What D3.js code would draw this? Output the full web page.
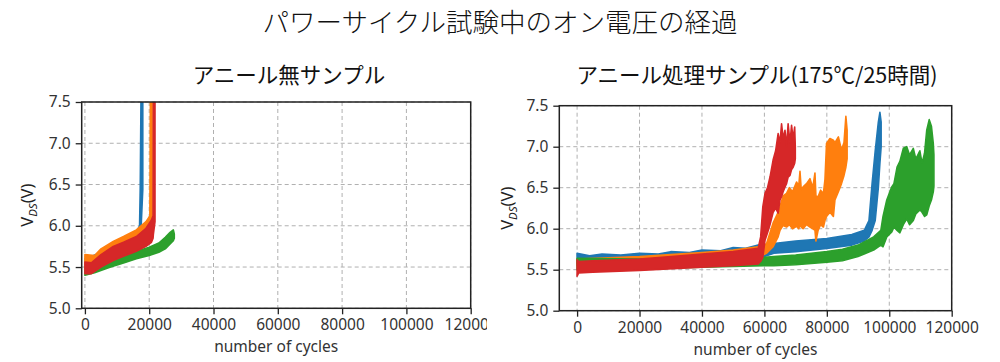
<!DOCTYPE html>
<html>
<head>
<meta charset="utf-8">
<script src="https://cdn.jsdelivr.net/npm/d3@7"></script>
<style>
  body { margin: 0; background: #fff; }
  svg { display: block; font-family: "Noto Sans CJK JP", "Noto Sans", sans-serif; }
</style>
</head>
<body>
<div id="container"></div>
<script>
const cycleTicks = [0, 20000, 40000, 60000, 80000, 100000, 120000];
const vdsTicks = [5.0, 5.5, 6.0, 6.5, 7.0, 7.5];
const sampleColors = ['#1f77b4', '#ff7f0e', '#2ca02c', '#d62728'];

// [cycles, lower V, upper V] envelopes
const rawBlue = [
  [0, 5.52, 5.60], [8000, 5.60, 5.72], [16000, 5.75, 5.92], [17000, 5.88, 6.00],
  [17200, 5.95, 6.44], [17500, 6.00, 7.8], [18000, 6.44, 7.8]
];
const rawOrange = [
  [0, 5.50, 5.65], [3000, 5.50, 5.64], [5000, 5.55, 5.72], [8800, 5.62, 5.81],
  [12000, 5.68, 5.87], [16000, 5.74, 5.95], [19000, 5.80, 6.05], [20200, 5.85, 6.12],
  [20400, 5.90, 7.8], [20900, 6.10, 7.8]
];
const rawGreen = [
  [0, 5.40, 5.50], [3000, 5.43, 5.52], [8000, 5.50, 5.59], [12000, 5.55, 5.64],
  [16000, 5.60, 5.69], [20000, 5.64, 5.74], [23000, 5.68, 5.79], [25000, 5.72, 5.86],
  [26500, 5.78, 5.92], [27500, 5.82, 5.95], [27800, 5.85, 5.90]
];
const rawRed = [
  [0, 5.42, 5.56], [2000, 5.42, 5.55], [5000, 5.50, 5.65], [8800, 5.58, 5.75],
  [12000, 5.63, 5.80], [16000, 5.69, 5.87], [19000, 5.75, 5.97], [20700, 5.80, 6.07],
  [21200, 5.85, 6.12], [21300, 5.90, 7.8], [21800, 6.05, 7.8]
];

const annealBlue = [
  [0, 5.58, 5.70], [4000, 5.60, 5.67], [8000, 5.59, 5.69], [14000, 5.60, 5.68],
  [20000, 5.60, 5.70], [26000, 5.61, 5.69], [30000, 5.62, 5.72], [36000, 5.63, 5.71],
  [40000, 5.64, 5.74], [46000, 5.65, 5.73], [50000, 5.67, 5.77], [54000, 5.67, 5.76],
  [58000, 5.68, 5.80], [60000, 5.66, 5.80],
  [63000, 5.70, 5.82], [70000, 5.72, 5.85], [80000, 5.76, 5.88], [88000, 5.80, 5.93],
  [92000, 5.85, 5.98], [93500, 5.90, 6.10], [94500, 5.98, 6.55], [95500, 6.10, 6.95],
  [96500, 6.50, 7.30], [97000, 6.80, 7.42], [97400, 7.00, 7.30]
];
const annealOrange = [
  [0, 5.55, 5.63], [20000, 5.57, 5.66], [40000, 5.60, 5.71], [50000, 5.63, 5.74],
  [58000, 5.66, 5.78], [59500, 5.68, 5.78], [60700, 5.70, 5.82], [62800, 5.78, 6.07],
  [64400, 5.90, 6.20], [65000, 5.98, 6.27], [66000, 6.04, 6.40], [67100, 6.02, 6.43],
  [68000, 6.05, 6.50], [69000, 6.00, 6.45], [70300, 6.03, 6.57], [71000, 6.00, 6.52],
  [71400, 6.05, 6.70], [71800, 6.02, 6.48], [72400, 6.00, 6.51], [73500, 6.05, 6.55],
  [74600, 6.02, 6.61], [75500, 6.00, 6.50], [76200, 5.98, 6.68], [76500, 5.85, 6.40],
  [77200, 5.98, 6.39], [78000, 6.05, 6.47], [78900, 6.02, 6.43], [79400, 6.10, 6.60],
  [79900, 6.15, 7.04], [81000, 6.20, 7.10], [82100, 6.15, 7.08], [82600, 6.35, 7.05],
  [83700, 6.45, 7.12], [84700, 6.55, 6.96], [85500, 6.65, 7.05], [86100, 6.75, 7.37],
  [86500, 6.85, 7.20]
];
const annealGreen = [
  [0, 5.50, 5.64], [20000, 5.51, 5.63], [40000, 5.53, 5.63], [50000, 5.54, 5.64],
  [60000, 5.55, 5.65], [63000, 5.55, 5.66], [70000, 5.56, 5.68], [80000, 5.59, 5.72],
  [85000, 5.61, 5.75], [90000, 5.66, 5.80], [95000, 5.74, 5.90], [97300, 5.80, 5.98],
  [98000, 5.78, 6.15], [99200, 5.90, 6.35], [100800, 5.96, 6.51], [101500, 6.02, 6.55],
  [102500, 5.98, 6.75], [103400, 5.95, 6.82], [104500, 6.05, 6.98], [105600, 6.12, 7.00],
  [106500, 6.05, 6.90], [107700, 6.10, 6.98], [108500, 6.18, 6.85], [109800, 6.23, 6.95],
  [110500, 6.20, 6.80], [111300, 6.15, 6.92], [112000, 6.17, 7.20], [112800, 6.28, 7.33],
  [113500, 6.35, 7.25], [114100, 6.45, 7.04], [114300, 6.52, 6.90]
];
const annealRed = [
  [0, 5.42, 5.62], [500, 5.46, 5.60], [5000, 5.47, 5.61], [20000, 5.49, 5.63],
  [40000, 5.53, 5.69], [50000, 5.55, 5.72], [58000, 5.57, 5.76], [58800, 5.60, 5.90],
  [59500, 5.65, 6.27], [60200, 5.86, 6.43], [61000, 5.95, 6.50], [61800, 6.05, 6.63],
  [62800, 6.20, 6.84], [63600, 6.25, 6.95], [64400, 6.19, 7.16], [65000, 6.35, 7.05],
  [65500, 6.39, 7.28], [66000, 6.45, 7.10], [66600, 6.51, 7.20], [67100, 6.55, 7.00],
  [67600, 6.63, 7.28], [68200, 6.65, 7.05], [68700, 6.72, 7.26], [69200, 6.75, 7.10],
  [69700, 6.80, 7.24], [69900, 6.85, 7.00]
];

const svg = d3.select('#container').append('svg')
  .attr('width', 1000)
  .attr('height', 362);

svg.append('text')
  .attr('x', 500).attr('y', 32)
  .attr('text-anchor', 'middle')
  .attr('font-size', 26.5)
  .attr('font-weight', 300)
  .attr('fill', '#111')
  .text('パワーサイクル試験中のオン電圧の経過');

drawPanel(svg, [rawBlue, rawOrange, rawGreen, rawRed], {
  id: 'raw',
  title: 'アニール無サンプル',
  titleX: 289,
  left: 81.7, right: 470.7, top: 102, bottom: 308.3,
  xMin: -1000,
  clipRight: 487,
  yLabelX: 27
});

drawPanel(svg, [annealBlue, annealOrange, annealGreen, annealRed], {
  id: 'anneal',
  title: 'アニール処理サンプル(175℃/25時間)',
  titleX: 757,
  left: 559.3, right: 951.7, top: 105.7, bottom: 310.7,
  xMin: -5700,
  clipRight: 1000,
  yLabelX: 507
});

function drawPanel(svg, series, opts) {
  const x = d3.scaleLinear().domain([opts.xMin, 120000]).range([opts.left, opts.right]);
  const y = d3.scaleLinear().domain([5.0, 7.5]).range([opts.bottom, opts.top]);

  svg.append('clipPath').attr('id', 'clip-' + opts.id)
    .append('rect')
    .attr('x', opts.left).attr('y', opts.top)
    .attr('width', opts.right - opts.left).attr('height', opts.bottom - opts.top);
  svg.append('clipPath').attr('id', 'outer-' + opts.id)
    .append('rect')
    .attr('x', 0).attr('y', 0)
    .attr('width', opts.clipRight).attr('height', 362);

  const g = svg.append('g').attr('clip-path', `url(#outer-${opts.id})`);

  g.append('text')
    .attr('x', opts.titleX).attr('y', 83)
    .attr('text-anchor', 'middle')
    .attr('font-size', 21.5)
    .attr('fill', '#111')
    .text(opts.title);

  // grid
  const grid = g.append('g').attr('stroke', '#b0b0b0').attr('stroke-width', 1)
    .attr('stroke-dasharray', '4,3');
  grid.selectAll('.gx').data(cycleTicks).enter().append('line')
    .attr('x1', d => x(d)).attr('x2', d => x(d))
    .attr('y1', opts.top).attr('y2', opts.bottom);
  grid.selectAll('.gy').data(vdsTicks).enter().append('line')
    .attr('x1', opts.left).attr('x2', opts.right)
    .attr('y1', d => y(d)).attr('y2', d => y(d));

  // bands
  const area = d3.area()
    .x(d => x(d[0]))
    .y0(d => y(d[1]))
    .y1(d => y(d[2]));
  g.append('g').attr('clip-path', `url(#clip-${opts.id})`)
    .selectAll('path').data(series).enter().append('path')
    .attr('d', area)
    .attr('fill', (d, i) => sampleColors[i])
    .attr('stroke', (d, i) => sampleColors[i])
    .attr('stroke-width', 1.6)
    .attr('stroke-linejoin', 'round');

  // axes
  const xAxis = d3.axisBottom(x).tickValues(cycleTicks).tickFormat(d3.format('d'))
    .tickSize(6).tickPadding(5);
  const yAxis = d3.axisLeft(y).tickValues(vdsTicks).tickFormat(d3.format('.1f'))
    .tickSize(6).tickPadding(5);

  const xg = g.append('g').attr('transform', `translate(0, ${opts.bottom})`).call(xAxis);
  const yg = g.append('g').attr('transform', `translate(${opts.left}, 0)`).call(yAxis);
  [xg, yg].forEach(a => {
    a.select('.domain').remove();
    a.selectAll('line').attr('stroke', '#222').attr('stroke-width', 1.3);
    a.selectAll('text').attr('font-size', 15.5).attr('fill', '#333')
      .attr('font-family', '"Noto Sans", sans-serif');
  });

  g.append('rect')
    .attr('x', opts.left).attr('y', opts.top)
    .attr('width', opts.right - opts.left).attr('height', opts.bottom - opts.top)
    .attr('fill', 'none').attr('stroke', '#222').attr('stroke-width', 1.5);

  g.append('text')
    .attr('x', (opts.left + opts.right) / 2).attr('y', opts.bottom + 44)
    .attr('text-anchor', 'middle')
    .attr('font-size', 15.5)
    .attr('font-family', '"Noto Sans", sans-serif')
    .attr('fill', '#333')
    .text('number of cycles');

  const yl = g.append('text')
    .attr('transform', `translate(${opts.yLabelX}, ${(opts.top + opts.bottom) / 2}) rotate(-90)`)
    .attr('text-anchor', 'middle')
    .attr('dy', '0.35em')
    .attr('font-size', 16.5)
    .attr('font-family', '"Noto Sans", sans-serif')
    .attr('fill', '#222');
  yl.append('tspan').text('V');
  yl.append('tspan').attr('font-style', 'italic').attr('font-size', 11.5).attr('dy', 4).text('DS');
  yl.append('tspan').attr('dy', -4).text('(V)');
}
</script>
</body>
</html>
